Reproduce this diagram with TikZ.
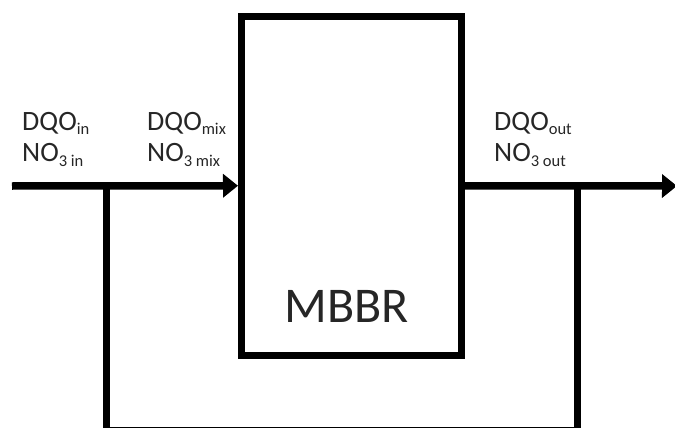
\documentclass[tikz,border=0pt]{standalone}
\usepackage{fontspec}
\setmainfont{Carlito}
\usetikzlibrary{arrows.meta}
\definecolor{textgray}{RGB}{38,38,38}
\newcommand{\lbl}[2]{#1\raisebox{-5pt}{\fontsize{16.5}{16.5}\selectfont #2}}
\tikzset{
  pipe/.style={line width=7.5pt, line join=miter, black},
  flowarrow/.style={pipe, -{Triangle[length=15pt,width=23pt]}},
  reactor/.style={draw, line width=7pt, rectangle, minimum width=219.5pt, minimum height=338.5pt, inner sep=0pt},
  label/.style={anchor=base west, inner sep=0pt, text=textgray, font=\fontsize{28}{28}\selectfont},
}
\begin{document}
\begin{tikzpicture}[x=1pt,y=-1pt]
\useasboundingbox (0,0) rectangle (675,428);
\clip (0,0) rectangle (675,428);
\node[reactor] (mbbr) at (351.25,185.75) {};
\node[anchor=base, inner sep=0pt, font=\fontsize{50}{50}\selectfont, text=textgray] (mbbrtxt) at (346.5,322) {MBBR};
\coordinate (src) at (12,186);
\coordinate (dst) at (677,186);
\coordinate (j1) at (106,186);
\coordinate (j2) at (577,186);
\coordinate (b1) at (106,430.8);
\coordinate (b2) at (577,430.8);
\draw[flowarrow] (src) -- (mbbr.west);
\draw[flowarrow] (mbbr.east) -- (dst);
\draw[pipe, line width=7pt] (j1) -- (b1) -- (b2) -- (j2);
\node[label] (dqoin) at (22,130) {\lbl{DQO}{in}};
\node[label] (noin) at (22,161) {\lbl{NO}{3 in}};
\node[label] (dqomix) at (147,130) {\lbl{DQO}{mix}};
\node[label] (nomix) at (147,161) {\lbl{NO}{3 mix}};
\node[label] (dqoout) at (494,130) {\lbl{DQO}{out}};
\node[label] (noout) at (494,161) {\lbl{NO}{3 out}};
\end{tikzpicture}
\end{document}
